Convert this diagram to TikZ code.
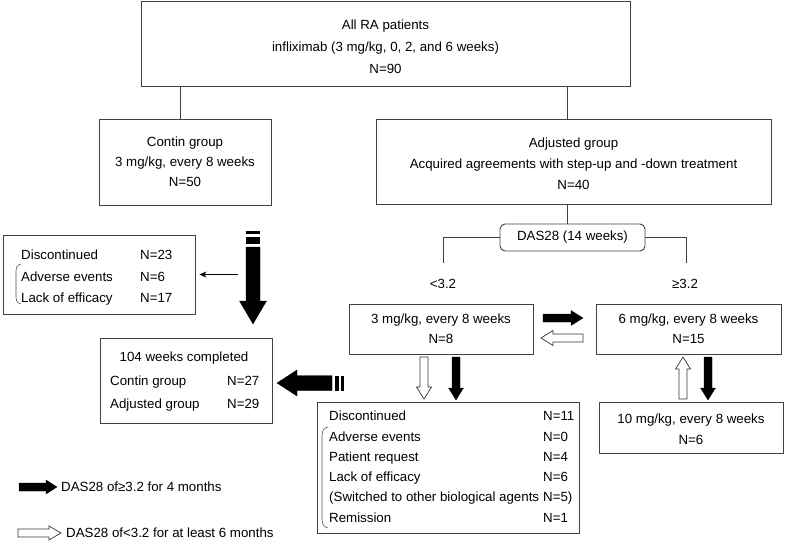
\documentclass[tikz,border=0pt]{standalone}
\usepackage{fontspec}
\setmainfont{Liberation Sans}
\usetikzlibrary{arrows.meta}
\newcommand{\blockarr}[7]{%
  \begin{scope}[shift={#2},rotate=#3]
    \filldraw[#1] (0,-#5) -- ({#4-#7},-#5) -- ({#4-#7},-#6) -- (#4,0) -- ({#4-#7},#6) -- ({#4-#7},#5) -- (0,#5) -- cycle;
  \end{scope}}
\begin{document}
\begin{tikzpicture}[x=1pt,y=-1pt,
  box/.style={draw=black!75, line width=0.9pt, inner sep=0pt},
  txt/.style={align=center, inner sep=0pt, font=\fontsize{13.3}{21}\selectfont},
  lbl/.style={inner sep=0pt, font=\fontsize{13.3}{21}\selectfont},
  conn/.style={draw=black!75, line width=0.9pt},
  brk/.style={draw=black!70, line width=0.6pt},
  blk/.style={fill=black, draw=black, line width=0.3pt},
  wht/.style={fill=white, draw=black!80, line width=0.7pt}]
\useasboundingbox (0,0) rectangle (790,547);

% boxes
\node[box, minimum width=489pt, minimum height=85pt] (top) at (385.5,43.5) {};
\node[txt, font=\fontsize{13.3}{22}\selectfont, yshift=-3.5pt] (topt) at (top) {All RA patients\\infliximab (3 mg/kg, 0, 2, and 6 weeks)\\N=90};
\node[box, minimum width=172pt, minimum height=86pt] (contin) at (185,162) {};
\node[txt, font=\fontsize{13.3}{20}\selectfont] (contint) at (contin) {Contin group\\3 mg/kg, every 8 weeks\\N=50};
\node[box, minimum width=395pt, minimum height=85pt] (adj) at (573.5,161.5) {};
\node[txt, yshift=-2pt] (adjt) at (adj) {Adjusted group\\Acquired agreements with step-up and -down treatment\\N=40};
\node[box, rounded corners=5pt, minimum width=145pt, minimum height=27pt] (das) at (572.5,237.5) {};
\node[lbl] (dast) at (das) {DAS28 (14 weeks)};
\node[lbl] (lt) at (443,284) {<3.2};
\node[lbl] (ge) at (685,284) {≥3.2};
\node[box, minimum width=184pt, minimum height=50pt] (b3) at (441,329) {};
\node[txt, font=\fontsize{13.3}{20}\selectfont, yshift=0.5pt] (b3t) at (b3) {3 mg/kg, every 8 weeks\\N=8};
\node[box, minimum width=185pt, minimum height=50pt] (b6) at (688.5,329) {};
\node[txt, font=\fontsize{13.3}{20}\selectfont, yshift=0.5pt] (b6t) at (b6) {6 mg/kg, every 8 weeks\\N=15};
\node[box, minimum width=184pt, minimum height=51pt] (b10) at (691,427.5) {};
\node[txt, yshift=-2pt] (b10t) at (b10) {10 mg/kg, every 8 weeks\\N=6};
\node[box, minimum width=262pt, minimum height=131pt] (disc2) at (448,467.5) {};
\node[box, minimum width=192pt, minimum height=79pt] (disc1) at (99,274.5) {};
\node[box, minimum width=172pt, minimum height=85pt] (wk) at (186,380.5) {};

% disc1 text
\node[lbl, anchor=base west] (d1a) at (21,259) {Discontinued};
\node[lbl, anchor=base west] (d1b) at (21,281.5) {Adverse events};
\node[lbl, anchor=base west] (d1c) at (21,302) {Lack of efficacy};
\node[lbl, anchor=base west] (d1an) at (140,259) {N=23};
\node[lbl, anchor=base west] (d1bn) at (140,281.5) {N=6};
\node[lbl, anchor=base west] (d1cn) at (140,302) {N=17};
\draw[brk] (21,264) .. controls (16.5,265) and (16,268) .. (16,272) -- (16,296) .. controls (16,300) and (16.5,303) .. (21,304);

% 104 weeks text
\node[lbl] (wka) at (184,358) {104 weeks completed};
\node[lbl, anchor=base west] (wkb) at (110,385.5) {Contin group};
\node[lbl, anchor=base west] (wkc) at (110,408.5) {Adjusted group};
\node[lbl, anchor=base west] (wkbn) at (227,385.5) {N=27};
\node[lbl, anchor=base west] (wkcn) at (227,408.5) {N=29};

% disc2 text
\node[lbl, anchor=base west] (e1) at (329,420.5) {Discontinued};
\node[lbl, anchor=base west] (e2) at (329,441) {Adverse events};
\node[lbl, anchor=base west] (e3) at (329,461.3) {Patient request};
\node[lbl, anchor=base west] (e4) at (329,481.6) {Lack of efficacy};
\node[lbl, anchor=base west] (e5) at (329,501.9) {(Switched to other biological agents};
\node[lbl, anchor=base west] (e5n) at (543,501.9) {N=5)};
\node[lbl, anchor=base west] (e6) at (329,522) {Remission};
\node[lbl, anchor=base west] (e1n) at (543,420.5) {N=11};
\node[lbl, anchor=base west] (e2n) at (543,441) {N=0};
\node[lbl, anchor=base west] (e3n) at (543,461.3) {N=4};
\node[lbl, anchor=base west] (e4n) at (543,481.6) {N=6};
\node[lbl, anchor=base west] (e6n) at (543,522) {N=1};
\draw[brk] (328,427) .. controls (323.5,428) and (322,431) .. (322,436) -- (322,519) .. controls (322,524) and (323.5,527) .. (328,528);

% connectors
\draw[conn] ([xshift=-5pt]contin.north) -- ([xshift=-5pt]contin.north |- top.south);
\draw[conn] ([xshift=-6.5pt]adj.north) -- ([xshift=-6.5pt]adj.north |- top.south);
\draw[conn] ([xshift=-6.5pt]adj.south) -- ([xshift=-6.5pt]adj.south |- das.north);
\draw[conn] (das.west) -| ([yshift=16pt]lt.north);
\draw[conn] (das.east) -| ([xshift=1pt,yshift=16pt]ge.north);
\coordinate (ta) at (238,274.5);
\draw[black, line width=0.9pt, -{Stealth[length=7pt,width=6pt]}, shorten >=4pt] (ta) -- (disc1.east);

% big broken arrows
\fill[black] (246,231) rectangle (260,234);
\fill[black] (246,237) rectangle (260,244);
\blockarr{blk}{(253,247)}{-90}{77}{7}{13.5}{23}
\blockarr{blk}{(332,383)}{180}{55}{7.5}{13}{20}
\fill[black] (334.5,375.5) rectangle (338.5,390.5);
\fill[black] (340.5,375.5) rectangle (344,390.5);

% small block arrows
\blockarr{blk}{(543,318)}{0}{40}{4}{7.5}{12}
\blockarr{wht}{(583,338)}{180}{42}{4}{7.5}{12}
\blockarr{wht}{(424,357)}{-90}{42}{4}{7.5}{12}
\blockarr{blk}{(456,357)}{-90}{43}{4}{7.5}{12}
\blockarr{wht}{(683,399)}{90}{42}{4}{7.5}{12}
\blockarr{blk}{(708,357)}{-90}{43}{4}{7.5}{12}

% legend
\blockarr{blk}{(19,487)}{0}{38}{4}{7}{11}
\node[lbl, anchor=base west] (lg1) at (61,491.5) {DAS28 of≥3.2 for 4 months};
\blockarr{wht}{(18,533)}{0}{43}{4}{7}{12}
\node[lbl, anchor=base west] (lg2) at (66,537.5) {DAS28 of<3.2 for at least 6 months};
\end{tikzpicture}
\end{document}
